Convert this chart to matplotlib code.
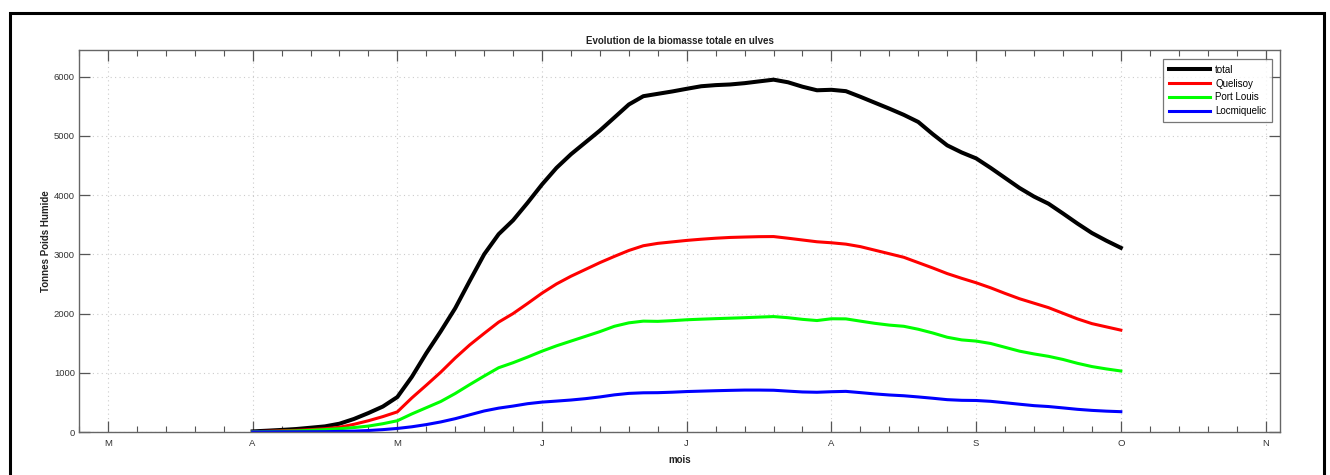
import matplotlib
matplotlib.use("Agg")
import matplotlib.pyplot as plt
from matplotlib.patches import Rectangle
from matplotlib.ticker import MultipleLocator

plt.rcParams['font.family'] = ['Liberation Sans', 'DejaVu Sans']

# Month tick labels (March .. November), positions in month units from March
month_labels = ['M', 'A', 'M', 'J', 'J', 'A', 'S', 'O', 'N']
month_pos = [0, 1, 2, 3, 4, 5, 6, 7, 8]

# Sample positions (month units, April .. October)
x = [1.0, 1.1, 1.2, 1.3, 1.4, 1.5, 1.6, 1.7, 1.8, 1.9,
     2.0, 2.1, 2.2, 2.3, 2.4, 2.5, 2.6, 2.7, 2.8, 2.9,
     3.0, 3.1, 3.2, 3.3, 3.4, 3.5, 3.6, 3.7, 3.8, 3.9,
     4.0, 4.1, 4.2, 4.3, 4.4, 4.5, 4.6, 4.7, 4.8, 4.9,
     5.0, 5.1, 5.2, 5.3, 5.4, 5.5, 5.6, 5.7, 5.8, 5.9,
     6.0, 6.1, 6.2, 6.3, 6.4, 6.5, 6.6, 6.7, 6.8, 6.9,
     7.0]

total = [10, 22, 35, 50, 72, 95, 140, 220, 320, 430,
         590, 930, 1330, 1700, 2090, 2550, 3000, 3340, 3575, 3870,
         4180, 4460, 4690, 4890, 5090, 5310, 5530, 5670, 5710, 5750,
         5795, 5838, 5857, 5868, 5890, 5920, 5949, 5905, 5830, 5770,
         5778, 5755, 5660, 5560, 5460, 5355, 5235, 5030, 4840, 4720,
         4620, 4460, 4290, 4120, 3975, 3855, 3690, 3520, 3360, 3230,
         3110]

quelisoy = [5, 12, 20, 28, 40, 55, 80, 130, 190, 260,
            340, 575, 790, 1010, 1250, 1470, 1665, 1855, 2000, 2170,
            2345, 2500, 2630, 2745, 2860, 2965, 3065, 3145, 3185, 3210,
            3235, 3255, 3272, 3285, 3292, 3298, 3300, 3272, 3242, 3212,
            3195, 3172, 3130, 3070, 3010, 2950, 2860, 2770, 2675, 2595,
            2520, 2435, 2340, 2250, 2175, 2100, 2005, 1910, 1830, 1775,
            1720]

port_louis = [3, 8, 12, 18, 28, 40, 55, 75, 100, 140,
              190, 305, 410, 515, 650, 800, 945, 1085, 1170, 1265,
              1365, 1455, 1535, 1615, 1695, 1785, 1843, 1872, 1868, 1880,
              1895, 1905, 1914, 1922, 1930, 1940, 1949, 1930, 1902, 1882,
              1912, 1910, 1872, 1835, 1805, 1785, 1735, 1672, 1600, 1555,
              1535, 1495, 1430, 1365, 1318, 1278, 1225, 1160, 1105, 1065,
              1030]

locmiquelic = [1, 2, 3, 3, 4, 5, 10, 15, 25, 40,
               60, 88, 125, 170, 225, 290, 355, 403, 438, 478,
               505, 522, 540, 563, 592, 627, 652, 662, 664, 672,
               683, 690, 697, 703, 708, 708, 705, 690, 676, 671,
               680, 686, 665, 643, 625, 612, 592, 570, 546, 535,
               532, 518, 494, 469, 445, 430, 407, 383, 365, 352,
               343]

W, H = 1330, 475
fig = plt.figure(figsize=(W / 100, H / 100), dpi=100)
ax = fig.add_axes([79 / W, 1 - 432 / H, (1280 - 79) / W, (432 - 50) / H])

ax.plot(x, total, color='black', lw=2.9, label='total', solid_joinstyle='round')
ax.plot(x, quelisoy, color='#ff0000', lw=2.2, label='Quelisoy', solid_joinstyle='round')
ax.plot(x, port_louis, color='#00ff00', lw=2.2, label='Port Louis', solid_joinstyle='round')
ax.plot(x, locmiquelic, color='#0000ff', lw=2.2, label='Locmiquelic', solid_joinstyle='round')

ax.set_xlim(-0.2, 8.1)
ax.set_ylim(0, 6450)
ax.set_xticks(month_pos)
ax.set_xticklabels(month_labels)
ax.xaxis.set_minor_locator(MultipleLocator(0.2))
ax.set_yticks([0, 1000, 2000, 3000, 4000, 5000, 6000])

gray = '#555555'
for s in ax.spines.values():
    s.set_color('#666666')
    s.set_linewidth(1.0)
ax.tick_params(which='major', direction='in', length=8, width=0.9, color=gray,
               top=True, right=True, labelsize=6.8, labelcolor='#333333')
ax.tick_params(axis='x', which='major', pad=5)
ax.tick_params(axis='y', which='major', pad=3)
ax.tick_params(which='minor', direction='in', length=4, width=0.8, color=gray,
               top=True, right=True)
ax.tick_params(axis='y', which='minor', left=False, right=False)

ax.grid(True, which='major', color='#cccccc', linestyle=(0, (1, 3)), linewidth=0.8)

ax.set_title('Evolution de la biomasse totale en ulves', fontsize=7,
             fontweight='bold', color='#222222', pad=4)
ax.set_xlabel('mois', fontsize=7, fontweight='bold', color='#222222', labelpad=5)
ax.set_ylabel('Tonnes Poids Humide', fontsize=7, fontweight='bold',
              color='#222222', labelpad=2)

leg = ax.legend(loc='upper right', bbox_to_anchor=(1272 / W, 1 - 59 / H),
                bbox_transform=fig.transFigure, fontsize=7, frameon=True,
                fancybox=False, edgecolor='#555555', handlelength=4.2,
                handletextpad=0.55, borderaxespad=0.0, labelspacing=0.38,
                borderpad=0.6)
leg.get_frame().set_linewidth(0.9)

# Outer black frame
fig.patches.append(Rectangle((10 / W, -0.05), (1324 - 10) / W, 1.05 - 13 / H,
                             transform=fig.transFigure, fill=False,
                             edgecolor='black', linewidth=2.2))

fig.savefig('out.png', dpi=100)
